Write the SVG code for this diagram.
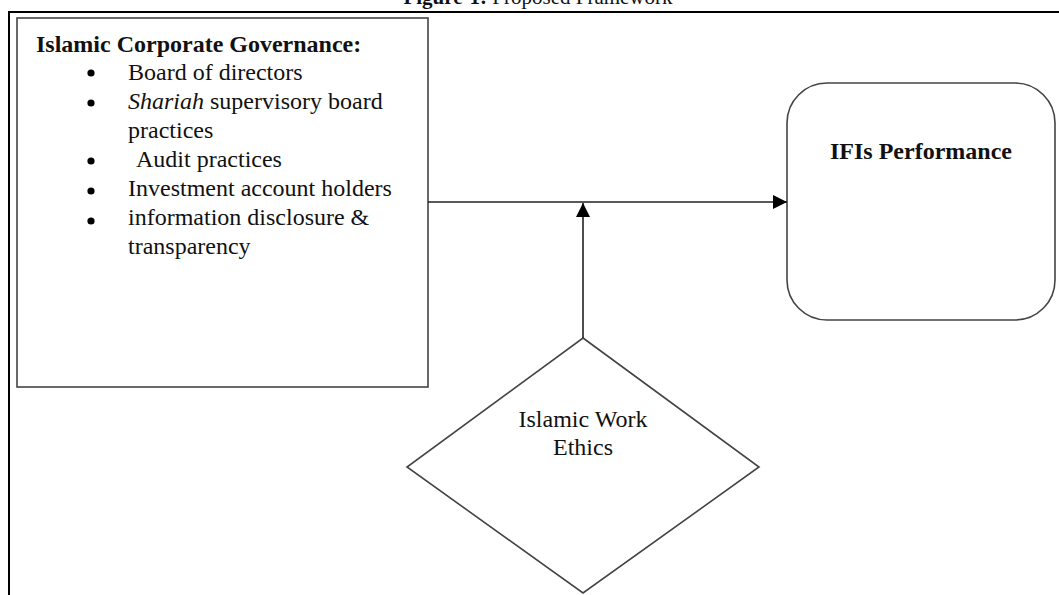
<svg xmlns="http://www.w3.org/2000/svg" width="1059" height="595" viewBox="0 0 1059 595">
<style>
text{font-family:"Liberation Serif","Times New Roman",serif;fill:#111}
.t{font-size:24px}
.b{font-weight:bold}
.shape{fill:#fff;stroke:#444;stroke-width:1.6}
.conn{stroke:#222;stroke-width:1.6;fill:none}
</style>
<defs>
<marker id="ah" viewBox="0 0 14 14" refX="14" refY="7" markerWidth="14" markerHeight="14" markerUnits="userSpaceOnUse" orient="auto">
<path d="M0,0 L14,7 L0,14 Z" fill="#000"/>
</marker>
</defs>
<rect width="1059" height="595" fill="#fff"/>
<g id="title">
<text x="538" y="4" text-anchor="middle" style="font-size:21px"><tspan class="b">Figure-1:</tspan> Proposed Framework</text>
</g>
<g id="frame">
<path d="M9,595 L9,12 L1059,12" fill="none" stroke="#000" stroke-width="2"/>
</g>
<g id="governance">
<rect class="shape" x="17" y="18" width="411" height="369"/>
<text class="t b" x="36" y="52">Islamic Corporate Governance:</text>
<g fill="#000">
<circle cx="91" cy="73" r="3.6"/>
<circle cx="91" cy="103" r="3.6"/>
<circle cx="91" cy="161" r="3.6"/>
<circle cx="91" cy="191" r="3.6"/>
<circle cx="91" cy="221" r="3.6"/>
</g>
<text class="t" x="128" y="80">Board of directors</text>
<text class="t" x="128" y="109"><tspan font-style="italic">Shariah</tspan> supervisory board</text>
<text class="t" x="128" y="138">practices</text>
<text class="t" x="136" y="167">Audit practices</text>
<text class="t" x="128" y="196">Investment account holders</text>
<text class="t" x="128" y="225">information disclosure &amp;</text>
<text class="t" x="128" y="254">transparency</text>
</g>
<g id="performance">
<rect class="shape" x="787" y="83" width="268" height="237" rx="40" ry="40"/>
<text class="t b" x="921" y="159" text-anchor="middle">IFIs Performance</text>
</g>
<g id="ethics">
<polygon class="shape" points="583,338 759,467 583,593 407,467"/>
<text class="t" x="583" y="427" text-anchor="middle">Islamic Work</text>
<text class="t" x="583" y="455" text-anchor="middle">Ethics</text>
</g>
<g id="connectors">
<line class="conn" x1="428" y1="202" x2="787" y2="202" marker-end="url(#ah)"/>
<line class="conn" x1="583" y1="338" x2="583" y2="203" marker-end="url(#ah)"/>
</g>
</svg>
